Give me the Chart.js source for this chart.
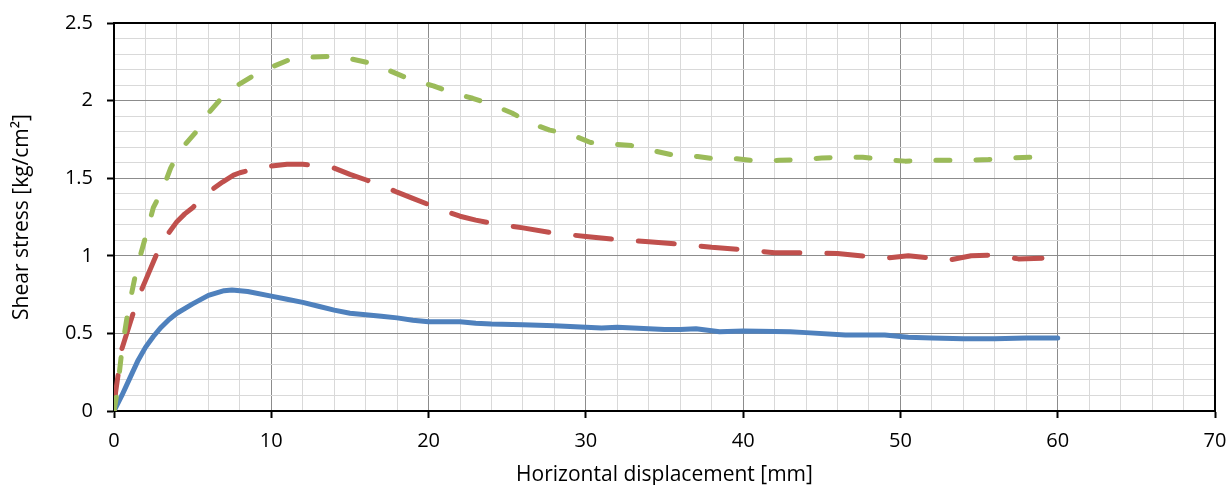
<!DOCTYPE html>
<html>
<head>
<meta charset="utf-8">
<script src="https://cdn.jsdelivr.net/npm/chart.js@4.4.1/dist/chart.umd.min.js"></script>
<style>
  html, body { margin: 0; padding: 0; background: #fff; }
  #wrap { width: 1228px; height: 485px; }
</style>
</head>
<body>
<div id="wrap"><canvas id="chart" width="1228" height="485"></canvas></div>
<script>
// Sample data

const xTicks = [0, 10, 20, 30, 40, 50, 60, 70];
const yTicks = [0, 0.5, 1, 1.5, 2, 2.5];

const blueX = [0, 0.5, 1, 1.5, 2, 2.5, 3, 3.5, 4, 5, 6, 7, 7.5, 8.5, 10, 11, 12, 13, 14, 15, 16, 17, 18, 19, 20, 21, 22, 23, 24, 26, 28, 30, 31, 32, 33, 35, 36, 37, 38.5, 40, 43, 44, 46.5, 49, 50.5, 52, 54, 56, 58, 60];
const blueY = [0, 0.1, 0.21, 0.32, 0.41, 0.48, 0.54, 0.59, 0.63, 0.69, 0.745, 0.775, 0.78, 0.77, 0.74, 0.72, 0.7, 0.675, 0.65, 0.63, 0.62, 0.61, 0.6, 0.585, 0.575, 0.575, 0.575, 0.565, 0.56, 0.555, 0.55, 0.54, 0.535, 0.54, 0.535, 0.525, 0.525, 0.53, 0.51, 0.515, 0.51, 0.505, 0.49, 0.49, 0.475, 0.47, 0.465, 0.465, 0.47, 0.47];

const redX = [0, 0.1, 0.5, 1, 1.5, 2, 2.5, 3, 3.5, 4, 4.5, 5, 5.66, 6, 6.9, 7.6, 8, 9.3, 11, 12, 13, 14, 15, 16, 17, 18, 19, 20, 21, 22, 23, 24, 25, 26, 28, 30, 32, 34, 36, 38, 40, 42, 44, 46, 48, 49, 50.5, 52, 53, 54.5, 56, 57.5, 59];
const redY = [0, 0.12, 0.4, 0.56, 0.72, 0.84, 0.96, 1.08, 1.15, 1.22, 1.27, 1.31, 1.38, 1.41, 1.475, 1.52, 1.535, 1.57, 1.59, 1.59, 1.58, 1.565, 1.525, 1.49, 1.455, 1.41, 1.37, 1.33, 1.29, 1.255, 1.23, 1.21, 1.195, 1.18, 1.145, 1.125, 1.105, 1.09, 1.075, 1.055, 1.04, 1.02, 1.02, 1.015, 0.995, 0.985, 1.0, 0.985, 0.97, 1.0, 1.005, 0.98, 0.985];

const greenX = [0, 0.2, 0.5, 0.9, 1.45, 2, 2.5, 3.1, 3.6, 4.2, 5.15, 5.8, 6.7, 7.7, 8.85, 10, 11.3, 12.5, 14, 15, 16.6, 17.7, 19, 20.3, 21.5, 22.8, 24.1, 25.3, 26.6, 27.7, 29.1, 30.3, 31.7, 32.9, 34.4, 35.5, 37.1, 38.2, 39.6, 40.9, 42.3, 43.6, 45, 46.3, 47.6, 48.9, 50.3, 51.7, 52.9, 54.2, 55.6, 57, 58.3, 59.6];
const greenY = [0, 0.12, 0.39, 0.65, 0.92, 1.12, 1.31, 1.43, 1.565, 1.68, 1.79, 1.895, 2.0, 2.09, 2.16, 2.215, 2.27, 2.28, 2.285, 2.27, 2.235, 2.185, 2.13, 2.095, 2.05, 2.015, 1.97, 1.92, 1.85, 1.81, 1.78, 1.73, 1.72, 1.71, 1.675, 1.65, 1.64, 1.625, 1.625, 1.61, 1.615, 1.62, 1.63, 1.635, 1.635, 1.62, 1.61, 1.615, 1.615, 1.615, 1.62, 1.63, 1.635, 1.62];

const toPoints = (xs, ys) => xs.map((x, i) => ({ x: x, y: ys[i] }));

const FONT = "'Open Sans', sans-serif";
const MAJOR = "#8c8c8c";
const MINOR = "#d9d9d9";

// black frame on top and right of the plot area
const framePlugin = {
  id: "frame",
  afterDatasetsDraw(chart) {
    const a = chart.chartArea;
    const ctx = chart.ctx;
    ctx.save();
    ctx.strokeStyle = "#000";
    ctx.lineWidth = 2;
    ctx.beginPath();
    ctx.moveTo(a.left, a.top);
    ctx.lineTo(a.right, a.top);
    ctx.lineTo(a.right, a.bottom);
    ctx.stroke();
    ctx.restore();
  },
};

const line = (label, pts, color, dash, order) => ({
  label: label,
  data: pts,
  showLine: true,
  borderColor: color,
  backgroundColor: color,
  borderWidth: 5,
  borderDash: dash,
  borderCapStyle: "round",
  borderJoinStyle: "round",
  pointRadius: 0,
  tension: 0,
  order: order,
});

new Chart(document.getElementById("chart").getContext("2d"), {
  type: "scatter",
  data: {
    datasets: [
      line("blue", toPoints(blueX, blueY), "#4F81BD", [], 3),
      line("red", toPoints(redX, redY), "#C0504D", [36, 27], 2),
      line("green", toPoints(greenX, greenY), "#9BBB59", [14, 26], 1),
    ],
  },
  plugins: [framePlugin],
  options: {
    responsive: false,
    animation: false,
    layout: { padding: { top: 23, right: 13, left: 0, bottom: 0 } },
    plugins: {
      legend: { display: false },
      tooltip: { enabled: false },
    },
    scales: {
      x: {
        type: "linear",
        min: 0,
        max: 70,
        afterFit: (s) => { s.height = 74; s.paddingLeft = 0; s.paddingRight = 0; },
        ticks: {
          stepSize: 2,
          autoSkip: false,
          maxRotation: 0,
          padding: 11,
          color: "#000",
          font: { family: FONT, size: 20 },
          callback: (v) => (xTicks.includes(v) ? String(v) : ""),
        },
        grid: {
          color: (c) => (c.tick && c.tick.value % 10 === 0 ? MAJOR : MINOR),
          tickColor: (c) => (c.tick && c.tick.value % 10 === 0 ? "#000" : "rgba(0,0,0,0)"),
          tickLength: 7,
          lineWidth: 1,
          tickWidth: 2,
        },
        border: { color: "#000", width: 2 },
        title: {
          display: true,
          text: "Horizontal displacement [mm]",
          color: "#000",
          font: { family: FONT, size: 21 },
          padding: { top: 0, bottom: -3 },
        },
      },
      y: {
        type: "linear",
        min: 0,
        max: 2.5,
        afterFit: (s) => { s.width = 114; s.paddingTop = 0; s.paddingBottom = 0; },
        ticks: {
          stepSize: 0.1,
          autoSkip: false,
          padding: 14,
          color: "#000",
          font: { family: FONT, size: 20 },
          callback: (v) => {
            const r = Math.round(v * 10) / 10;
            return yTicks.includes(r) ? String(r) : "";
          },
        },
        grid: {
          color: (c) => (c.tick && Math.round(c.tick.value * 10) % 5 === 0 ? MAJOR : MINOR),
          tickColor: (c) => (c.tick && Math.round(c.tick.value * 10) % 5 === 0 ? "#000" : "rgba(0,0,0,0)"),
          tickLength: 7,
          lineWidth: 1,
          tickWidth: 2,
        },
        border: { color: "#000", width: 2 },
        title: {
          display: true,
          text: "Shear stress [kg/cm²]",
          color: "#000",
          font: { family: FONT, size: 21 },
          padding: { top: 9, bottom: 0 },
        },
      },
    },
  },
});
</script>
</body>
</html>
